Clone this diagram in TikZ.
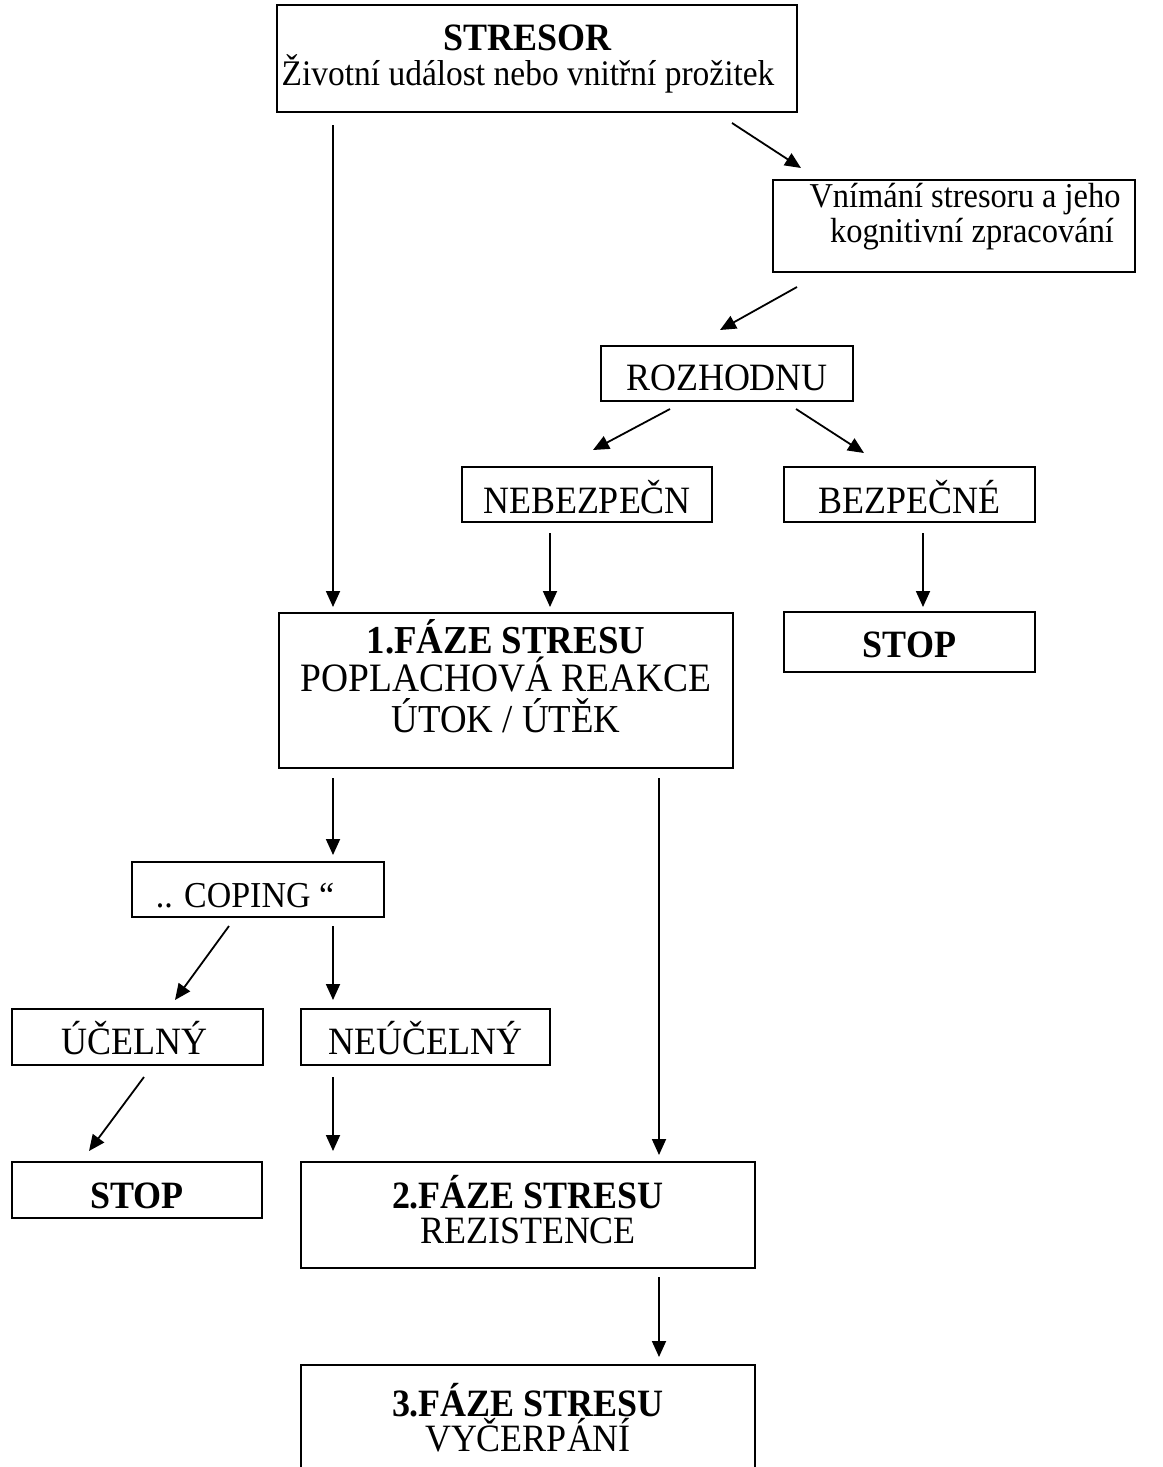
\documentclass[tikz,border=0pt]{standalone}
\usepackage{fontspec}
\setmainfont{Liberation Serif}[FakeStretch=0.93]
\usetikzlibrary{calc,arrows.meta}
\newcommand\bx[5]{\parbox[c][#2][t]{#1}{\centering\leftskip=#4 plus 1fil\rightskip=-#4 plus 1fil\lineskiplimit=-100pt\fontsize{38.7}{35}\selectfont\rule{0pt}{#3}#5}}
\newcommand\smf{\fontsize{34.9}{35}\selectfont}
\newcommand\fsz[1]{\fontsize{#1}{35}\selectfont}
\begin{document}
\begin{tikzpicture}[x=1pt,y=-1pt,
  box/.style={draw,line width=1.8pt,inner sep=0pt,outer sep=0pt,anchor=north west},
  arr/.style={line width=1.8pt,-{Triangle[length=16pt,width=14pt]}}]
\clip (0,0) rectangle (1162,1467);
\fill[white] (0,0) rectangle (1162,1467);
\node[box] (stresor) at (277,5) {\bx{520pt}{107pt}{45pt}{-9pt}{\textbf{STRESOR}\\{\fsz{36} Životní událost nebo vnitřní prožitek}}};
\node[box] (vnim) at (773,180) {\bx{362pt}{92pt}{27pt}{11pt}{\smf Vnímání stresoru a jeho\\\hspace*{14pt}kognitivní zpracování}};
\node[box] (rozh) at (601,346) {\bx{252pt}{55pt}{44pt}{0pt}{ROZHODNU}};
\node[box] (nebez) at (462,467) {\bx{250pt}{55pt}{46pt}{0pt}{NEBEZPEČN}};
\node[box] (bezp) at (784,467) {\bx{251pt}{55pt}{46pt}{0pt}{BEZPEČNÉ}};
\node[box] (stopR) at (784,612) {\bx{251pt}{60pt}{45pt}{0pt}{\textbf{STOP}}};
\node[box] (faze1) at (279,613) {\bx{454pt}{155pt}{40pt}{0pt}{\fsz{39.6}\textbf{1.FÁZE STRESU}\\[3pt]{\fsz{40.3}POPLACHOVÁ REAKCE}\\[6pt]ÚTOK / ÚTĚK}};
\node[box] (coping) at (132,862) {\bx{252pt}{55pt}{45pt}{-13pt}{\fsz{36.5}.. COPING “}};
\node[box] (ucel) at (12,1009) {\bx{251pt}{56pt}{45pt}{-3pt}{ÚČELNÝ}};
\node[box] (neucel) at (301,1009) {\bx{249pt}{56pt}{45pt}{0pt}{NEÚČELNÝ}};
\node[box] (stopL) at (12,1162) {\bx{250pt}{56pt}{46pt}{0pt}{\textbf{STOP}}};
\node[box] (faze2) at (301,1162) {\bx{454pt}{106pt}{46pt}{0pt}{\textbf{2.FÁZE STRESU}\\REZISTENCE}};
\node[box] (faze3) at (301,1365) {\bx{454pt}{150pt}{51pt}{0pt}{\textbf{3.FÁZE STRESU}\\VYČERPÁNÍ}};
\draw[arr] ($(stresor.south west)+(56,13)$) -- ($(faze1.north west)+(54,-6)$);
\draw[arr] ($(stresor.south west)+(455,11)$) -- ($(vnim.north west)+(28,-12)$);
\draw[arr] ($(vnim.south west)+(24,15)$) -- ($(rozh.north west)+(119,-16)$);
\draw[arr] ($(rozh.south west)+(69,8)$) -- ($(nebez.north east)+(-119,-17)$);
\draw[arr] ($(rozh.south west)+(195,8)$) -- ($(bezp.north west)+(80,-14)$);
\draw[arr] ($(nebez.south west)+(88,11)$) -- ($(faze1.north west)+(271,-6)$);
\draw[arr] ($(bezp.south west)+(139,11)$) -- ($(stopR.north west)+(139,-5)$);
\draw[arr] ($(faze1.south west)+(54,10)$) -- ($(coping.north west)+(201,-7)$);
\draw[arr] ($(faze1.south west)+(380,10)$) -- ($(faze2.north west)+(358,-7)$);
\draw[arr] ($(coping.south west)+(97,9)$) -- ($(ucel.north west)+(163,-9)$);
\draw[arr] ($(coping.south west)+(201,9)$) -- ($(neucel.north west)+(32,-9)$);
\draw[arr] ($(ucel.south west)+(132,12)$) -- ($(stopL.north west)+(77,-11)$);
\draw[arr] ($(neucel.south west)+(32,12)$) -- ($(faze2.north west)+(32,-11)$);
\draw[arr] ($(faze2.south west)+(358,9)$) -- ($(faze3.north west)+(358,-8)$);
\end{tikzpicture}
\end{document}
